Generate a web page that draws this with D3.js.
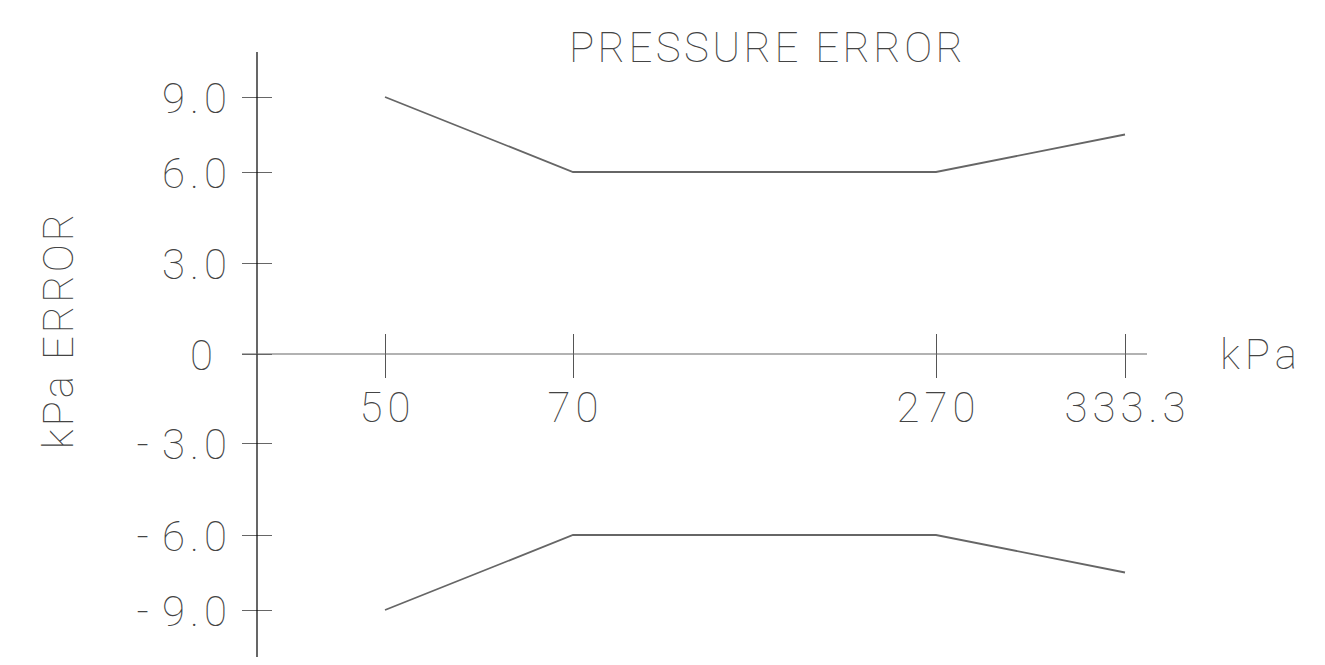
<!DOCTYPE html>
<html>
<head>
<meta charset="utf-8">
<script src="https://cdn.jsdelivr.net/npm/d3@7"></script>
<style>
  body { margin: 0; background: #fff; }
  text { font-family: Roboto, "DejaVu Sans", sans-serif; font-weight: 100; fill: #444; }
</style>
</head>
<body>
<div id="container"></div>
<script>
//Pressure points on the x axis and the error band around them
var pressure = [50, 70, 270, 333.3],
    upperError = [9, 6, 6, 7.5],
    lowerError = [-9, -6, -6, -7.5];

//Tick values and labels
var xTicks = [50, 70, 270, 333.3],
    xTickLabels = ["50", "70", "270", "333.3"],
    yTicks = [-9, -6, -3, 0, 3, 6, 9],
    yTickLabels = ["-9.0", "-6.0", "-3.0", "0", "3.0", "6.0", "9.0"];

var width = 1325,
    height = 665;

//The drawing is schematic, so both scales are piecewise
var x = d3.scaleLinear()
    .domain(xTicks)
    .range([385, 573, 936, 1125]);

var y = d3.scaleLinear()
    .domain(yTicks)
    .range([610, 535, 443, 354, 263, 172, 97]);

var originX = 257,
    originY = y(0);

var svg = d3.select("#container").append("svg")
    .attr("width", width)
    .attr("height", height);

//Title
svg.append("text")
    .attr("x", 766)
    .attr("y", 62)
    .attr("text-anchor", "middle")
    .attr("font-size", 42)
    .attr("textLength", 394)
    .attr("lengthAdjust", "spacing")
    .text("PRESSURE ERROR");

//Y axis
var yAxis = svg.append("g")
    .attr("transform", "translate(" + originX + ",0)")
    .call(d3.axisLeft(y)
        .tickValues(yTicks)
        .tickFormat(function (d, i) { return yTickLabels[i]; })
        .tickSize(15));

yAxis.select(".domain").remove();
yAxis.selectAll(".tick line")
    .attr("x1", -15)
    .attr("x2", 15)
    .attr("stroke", "#666");
yAxis.selectAll(".tick text")
    .attr("font-size", 42)
    .attr("font-family", null)
    .attr("fill", null)
    .attr("letter-spacing", 5)
    .attr("dy", "0.36em")
    .attr("x", function (d) { return d === 0 ? -39 : -25; })
    .each(function () {
        //the plotter leaves a wide gap after the minus sign
        var t = d3.select(this), s = t.text();
        if (s.charAt(0) === "-") {
            t.text("-");
            t.append("tspan").attr("dx", 8).text(s.slice(1));
        }
    });

svg.append("line")
    .attr("x1", originX).attr("x2", originX)
    .attr("y1", 52).attr("y2", 657)
    .attr("stroke", "#000")
    .attr("stroke-width", 1.2);

//X axis
var xAxis = svg.append("g")
    .attr("transform", "translate(0," + originY + ")")
    .call(d3.axisBottom(x)
        .tickValues(xTicks)
        .tickFormat(function (d, i) { return xTickLabels[i]; })
        .tickSize(24));

xAxis.select(".domain").remove();
xAxis.selectAll(".tick line")
    .attr("y1", -20)
    .attr("y2", 24)
    .attr("stroke", "#555");
xAxis.selectAll(".tick text")
    .attr("font-size", 42)
    .attr("font-family", null)
    .attr("fill", null)
    .attr("letter-spacing", 5)
    .attr("x", 2)
    .attr("y", 68)
    .attr("dy", 0);

svg.append("line")
    .attr("x1", 242).attr("x2", 1147)
    .attr("y1", originY).attr("y2", originY)
    .attr("stroke", "#666")
    .attr("stroke-width", 1.2);

//Axis titles
svg.append("text")
    .attr("x", 1220)
    .attr("y", 369)
    .attr("font-size", 42)
    .attr("letter-spacing", 5)
    .text("kPa");

svg.append("text")
    .attr("transform", "translate(73,330) rotate(-90)")
    .attr("text-anchor", "middle")
    .attr("font-size", 42)
    .attr("letter-spacing", 3)
    .text("kPa ERROR");

//Error band lines
var line = d3.line()
    .x(function (d) { return x(d[0]); })
    .y(function (d) { return y(d[1]); });

[upperError, lowerError].forEach(function (series) {
    svg.append("path")
        .datum(d3.zip(pressure, series))
        .attr("d", line)
        .attr("fill", "none")
        .attr("stroke", "#666")
        .attr("stroke-width", 1.8);
});
</script>
</body>
</html>
